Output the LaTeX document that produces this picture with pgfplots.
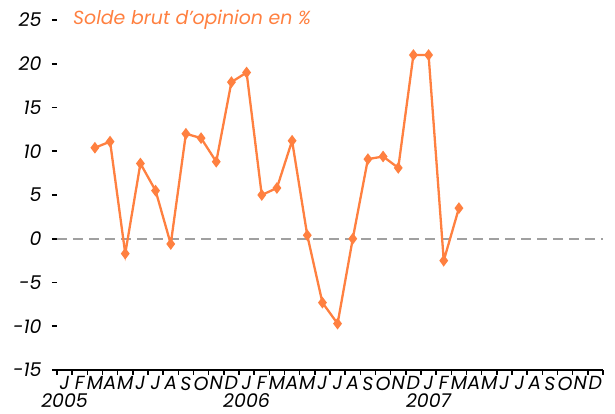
\documentclass[border=0pt]{standalone}
\usepackage{fontspec}
\setmainfont{Poppins}
\usepackage{pgfplots}
\pgfplotsset{compat=1.18}
\definecolor{orng}{RGB}{255,128,64}
\definecolor{zgray}{RGB}{160,160,160}
\begin{document}
\fontsize{19}{20}\selectfont\itshape
\begin{tikzpicture}
\path[use as bounding box] (-57bp,-44bp) rectangle (558bp,370bp);
\begin{axis}[
  at={(0,0)}, anchor=south west,
  scale only axis, width=546bp, height=350bp,
  xmin=-0.5, xmax=35.5, ymin=-15, ymax=25,
  axis x line*=bottom, axis y line*=left,
  x axis line style={line width=2.2bp, -},
  y axis line style={draw=none},
  ytick={-15,-10,...,25},
  yticklabels={-15,-10,-5,0,5,10,15,20,25},
  y tick label style={font=\fontsize{19}{20}\selectfont\itshape, xshift=-4bp},
  ytick style={line width=1.8bp, black},
  tick align=outside,
  major tick length=5bp,
  xtick={-0.5,0.5,...,35.5},
  xticklabels={},
  xtick style={line width=1.5bp, black},
  extra x ticks={0,1,...,35},
  extra x tick labels={J,F,M,A,M,J,J,A,S,O,N,D,J,F,M,A,M,J,J,A,S,O,N,D,J,F,M,A,M,J,J,A,S,O,N,D},
  extra x tick style={major tick length=0pt, tick label style={font=\fontsize{19}{20}\selectfont\itshape, inner xsep=0pt, inner ysep=1bp, text depth=0pt, yshift=-5.5bp}},
  /pgf/number format/assume math mode=true,
  clip=false,
]
\addplot[zgray, line width=2.2bp, dash pattern=on 10bp off 6bp] coordinates {(-0.5,0) (35.5,0)};
\addplot[orng, line width=2.3bp, mark=diamond*, mark size=4bp, mark options={fill=orng, solid}] coordinates {
(2,10.4) (3,11.1) (4,-1.7) (5,8.6) (6,5.5) (7,-0.6) (8,12.0) (9,11.5) (10,8.8)
(11,17.9) (12,19.0) (13,5.0) (14,5.8) (15,11.2) (16,0.4) (17,-7.3) (18,-9.7)
(19,0.0) (20,9.1) (21,9.4) (22,8.1) (23,21.0) (24,21.0) (25,-2.5) (26,3.5)
};
\node[anchor=west, text=orng, inner sep=0pt, font=\fontsize{19}{20}\selectfont\itshape] at (axis cs:0.55,25) {Solde brut d'opinion en \%};
\node[anchor=north, inner sep=0pt, text depth=0pt, font=\fontsize{19}{20}\selectfont\itshape] at (axis cs:0,-15) [yshift=-23.5bp] {2005};
\node[anchor=north, inner sep=0pt, text depth=0pt, font=\fontsize{19}{20}\selectfont\itshape] at (axis cs:12,-15) [yshift=-23.5bp] {2006};
\node[anchor=north, inner sep=0pt, text depth=0pt, font=\fontsize{19}{20}\selectfont\itshape] at (axis cs:24,-15) [yshift=-23.5bp] {2007};
\end{axis}
\end{tikzpicture}
\end{document}
